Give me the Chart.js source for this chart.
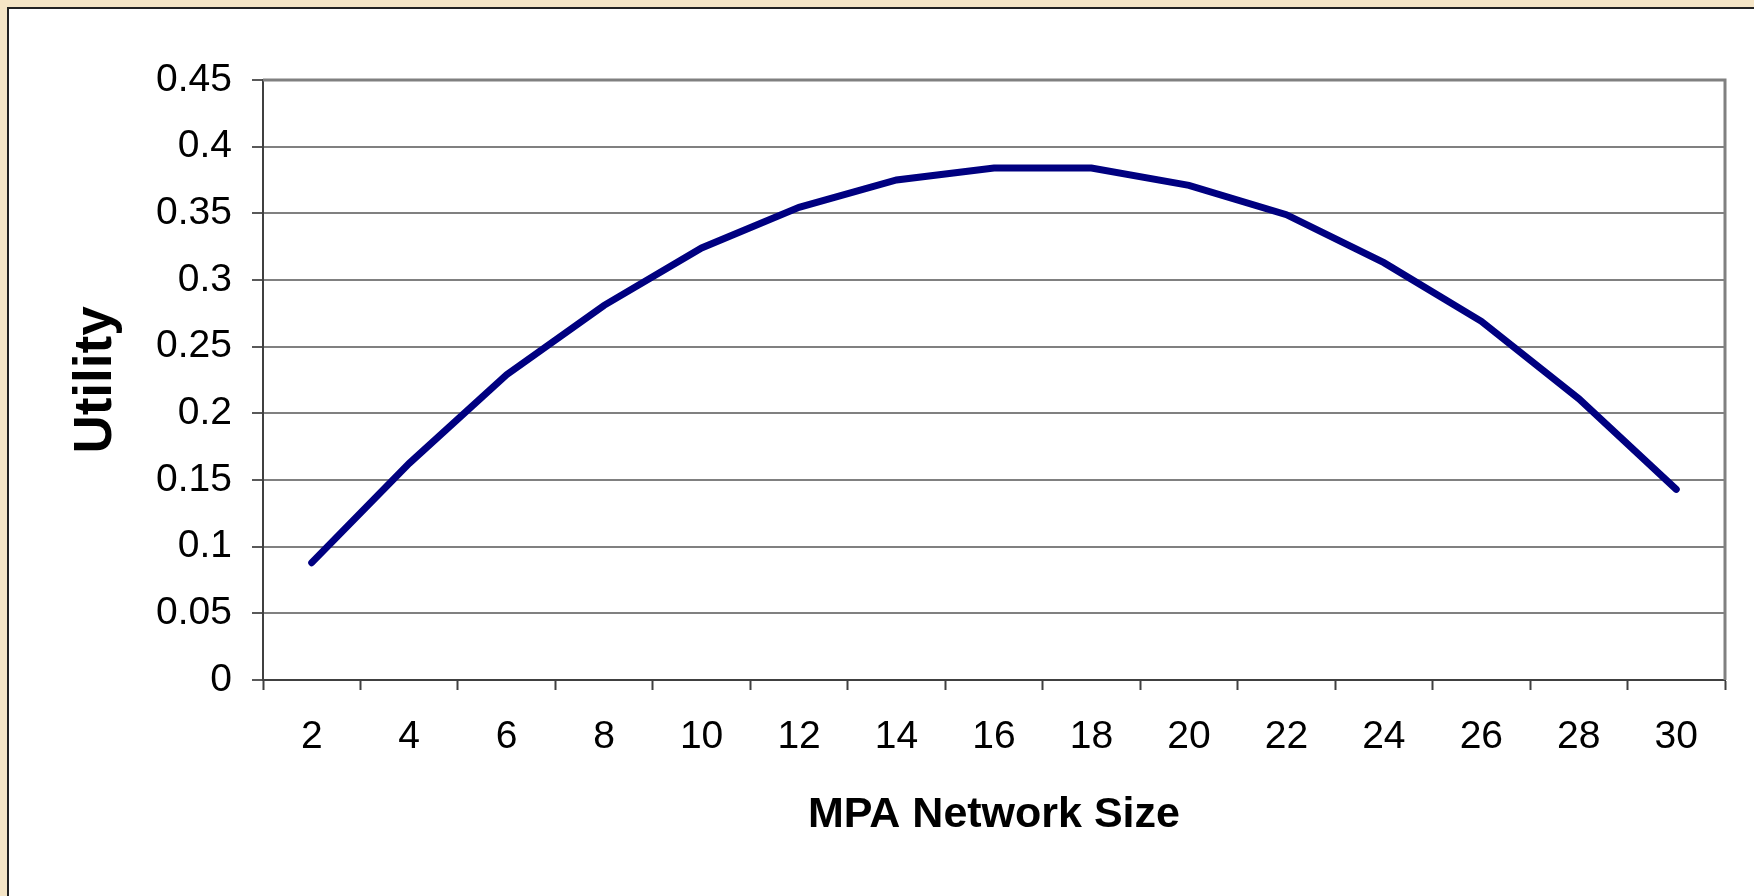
<!DOCTYPE html>
<html>
<head>
<meta charset="utf-8">
<script src="https://cdn.jsdelivr.net/npm/chart.js@4/dist/chart.umd.min.js"></script>
<style>
  html, body { margin: 0; padding: 0; background: #fff; }
  body { width: 1754px; height: 896px; overflow: hidden; position: relative; }
  .edge { position: absolute; background: #f5e5c6; }
  #edgeTop { left: 0; top: 0; width: 2000px; height: 7px; }
  #edgeLeft { left: 0; top: 0; width: 7px; height: 1200px; }
  #panel {
    position: absolute; left: 7px; top: 7px; width: 1800px; height: 950px;
    background: #fff; border-left: 2px solid #222; border-top: 2px solid #222;
    box-sizing: border-box;
  }
  canvas { display: block; }
</style>
</head>
<body>
<div class="edge" id="edgeTop"></div>
<div class="edge" id="edgeLeft"></div>
<div id="panel"><canvas id="chart" width="1745" height="887"></canvas></div>
<script>
// MPA network size vs utility
const networkSizes = ['2', '4', '6', '8', '10', '12', '14', '16', '18', '20', '22', '24', '26', '28', '30'];
const utility = [0.088, 0.1625, 0.229, 0.281, 0.324, 0.3545, 0.375, 0.384, 0.384, 0.371, 0.349, 0.313, 0.269, 0.211, 0.143];
const yTicks = [0, 0.05, 0.1, 0.15, 0.2, 0.25, 0.3, 0.35, 0.4, 0.45];

Chart.defaults.font.family = "'Liberation Sans', Arial, sans-serif";
Chart.defaults.color = '#000';

// top and right edge of the plot area
const plotFrame = {
    id: 'plotFrame',
    afterDraw(chart) {
        const { ctx, chartArea: a } = chart;
        ctx.save();
        ctx.strokeStyle = '#808080';
        ctx.lineWidth = 3;
        ctx.beginPath();
        ctx.moveTo(a.left, a.top);
        ctx.lineTo(a.right, a.top);
        ctx.lineTo(a.right, a.bottom);
        ctx.stroke();
        ctx.restore();
    }
};

new Chart(document.getElementById('chart'), {
    type: 'line',
    data: {
        labels: networkSizes,
        datasets: [{
            label: 'Utility',
            data: utility,
            borderColor: '#000080',
            borderWidth: 7,
            borderCapStyle: 'round',
            pointRadius: 0,
            fill: false,
            tension: 0
        }]
    },
    options: {
        responsive: false,
        animation: false,
        layout: { padding: { top: 71, right: 29, left: 0, bottom: 0 } },
        plugins: { legend: { display: false }, tooltip: { enabled: false } },
        scales: {
            x: {
                offset: true,
                afterFit: s => { s.height = 216; },
                grid: { offset: true, drawOnChartArea: false, tickLength: 10, tickColor: '#404040', tickWidth: 2 },
                border: { color: '#404040', width: 2 },
                ticks: { font: { size: 39 }, padding: 24, maxRotation: 0, autoSkip: false },
                title: { display: true, text: 'MPA Network Size', font: { size: 43, weight: 'bold' }, padding: { top: 0, bottom: 55 } }
            },
            y: {
                min: 0,
                max: 0.45,
                afterFit: s => { s.width = 254; },
                afterBuildTicks: s => { s.ticks = yTicks.map(v => ({ value: v })); },
                grid: { color: '#808080', lineWidth: 2, tickLength: 11, tickColor: '#222', tickWidth: 1.5 },
                border: { color: '#404040', width: 2 },
                ticks: { font: { size: 39 }, padding: 20, callback: v => String(parseFloat(v.toFixed(2))) },
                title: { display: true, text: 'Utility', font: { size: 53, weight: 'bold' }, padding: { top: 56, bottom: 0 } }
            }
        }
    },
    plugins: [plotFrame]
});
</script>
</body>
</html>
